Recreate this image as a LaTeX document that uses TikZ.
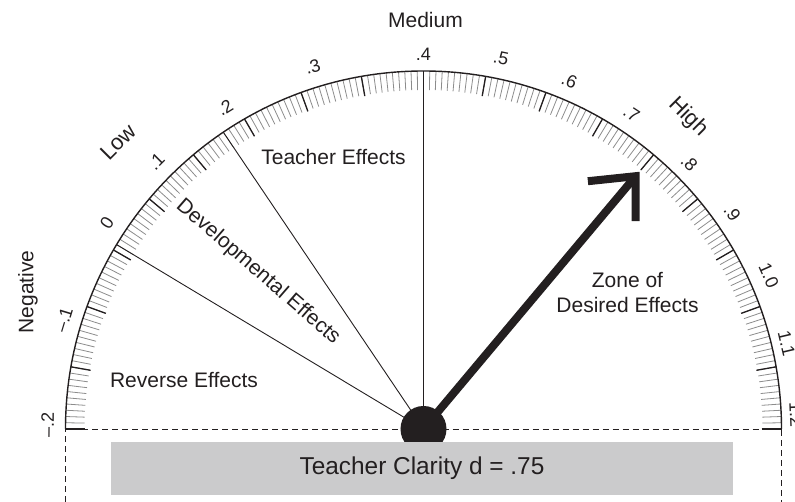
\documentclass[tikz,border=0pt]{standalone}
\usepackage{fontspec}
\setmainfont{Liberation Sans}
\usetikzlibrary{calc}
\definecolor{inkgray}{HTML}{231F20}
\definecolor{boxgray}{HTML}{CBCBCC}
\definecolor{tickgray}{HTML}{8C8C8C}
\begin{document}
\begin{tikzpicture}[x=1pt,y=1pt,
    word/.style={text=inkgray,font=\fontsize{21}{25}\selectfont},
    num/.style={text=inkgray,font=\fontsize{18}{21}\selectfont},
    minortick/.style={tickgray,line width=.8pt},
    majortick/.style={inkgray,line width=1.3pt},
    divider/.style={inkgray,line width=.9pt},
    guide/.style={inkgray,line width=.9pt,dash pattern=on 6pt off 4pt},
    needle/.style={inkgray,line width=8pt,line join=miter}]
        \useasboundingbox (-423.5,-73) rectangle (371.5,429);
        \foreach \a in {0,...,180} {
            \draw[minortick] (\a:339) -- (\a:358);
        }
        \foreach \a in {0,10,...,180} {
            \draw[majortick] (\a:338) -- (\a:358);
        }
        \draw[inkgray,line width=1.4pt] (358,0) arc (0:180:358);
        \draw[guide] (-358,-73) -- (-358,0) -- (358,0) -- (358,-73);
        \node[circle,fill=inkgray,minimum size=46pt,inner sep=0pt] (hub) at (0,0) {};
        \foreach \a/\n in {149/rev,124/dev,90/tea} {
            \coordinate (\n) at (\a:358);
            \draw[divider] (hub.center) -- (\n);
        }
        \coordinate (tip) at (50:330);
        \coordinate (barbL) at ($(tip)+(186:48)$);
        \coordinate (barbR) at ($(tip)+(270:45)$);
        \draw[needle] (hub.center) -- (tip);
        \draw[needle] (barbL) -- (tip) -- (barbR);
        \foreach \a/\r/\t [count=\i] in {179.4/376/{--.2},163.1/376/{--.1},146.9/378/0,135/378/.1,121.7/378/.2,107/379/.3,90/375/.4,78.2/379/.5,67.3/378/.6,56.6/378/.7,45/376/.8,35/377/.9,24/378/1.0,13.3/373/1.1,2.2/373/1.2}
            \node[num,rotate=\a-90] (num\i) at (\a:\r) {\t};
        \node[word] (medium) at (2,408.5) {Medium};
        \node[word,font=\fontsize{22}{26}\selectfont,rotate=45] (low) at (-305.5,287) {Low};
        \node[word,font=\fontsize{22}{26}\selectfont,rotate=-45] (high) at (264.5,312) {High};
        \node[word,rotate=90] (negative) at (-395.5,137) {Negative};
        \node[word] (teacher) at (-90,272) {Teacher Effects};
        \node[word] (reverse) at (-239.5,49) {Reverse Effects};
        \node[word,rotate=-41] (develop) at (-165.5,157) {Developmental Effects};
        \node[word,align=center] (zone) at (204,136) {Zone of\\Desired Effects};
        \node[fill=boxgray,minimum width=622pt,minimum height=53pt,inner sep=0pt,text=inkgray,font=\fontsize{24.4}{28}\selectfont] (clarity) at (-1.5,-39.5) {Teacher Clarity d = .75};
    \end{tikzpicture}
\end{document}
